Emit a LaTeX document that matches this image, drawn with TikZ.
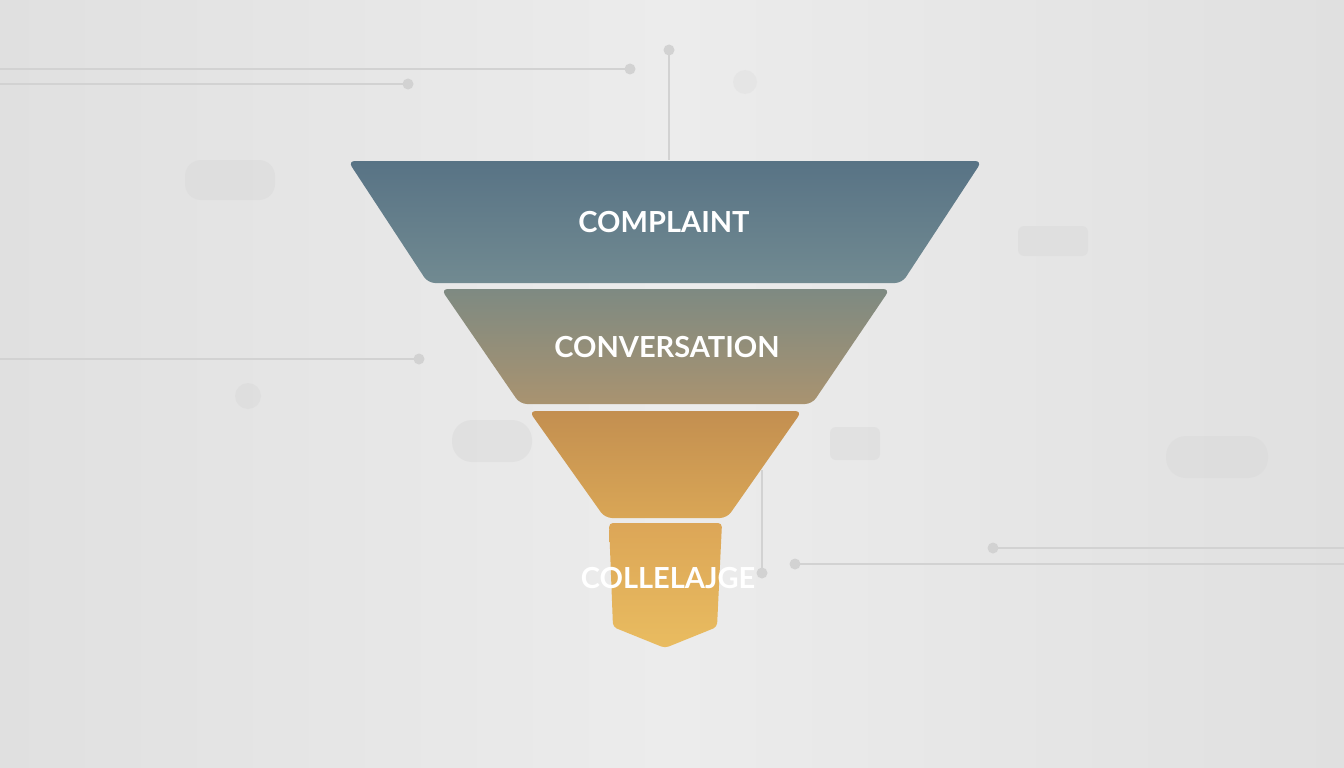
\documentclass[tikz,border=0pt]{standalone}
\usepackage{fontspec}
\setmainfont{Lato}
\definecolor{bgA}{HTML}{E0E0E0}
\definecolor{bgB}{HTML}{ECECEC}
\definecolor{deco}{HTML}{D2D2D2}
\definecolor{decofaint}{HTML}{DADADA}
\definecolor{aTop}{HTML}{587385}
\definecolor{aBot}{HTML}{718A91}
\definecolor{bTop}{HTML}{7E8A82}
\definecolor{bBot}{HTML}{A99370}
\definecolor{cTop}{HTML}{C38F50}
\definecolor{cBot}{HTML}{D9A656}
\definecolor{dTop}{HTML}{DCA657}
\definecolor{dBot}{HTML}{E9BC60}
\begin{document}
\begin{tikzpicture}[x=1pt,y=-1pt,
  decoline/.style={draw=deco,line width=1.2pt},
  decodot/.style={fill=deco,draw=none},
  faint/.style={fill=decofaint,draw=none,fill opacity=0.5,rounded corners=18pt},
  band/.style={rounded corners=7pt,draw=none},
  lbl/.style={text=white,font=\bfseries\fontsize{29}{32}\selectfont,inner sep=0pt}]
\useasboundingbox (0,0) rectangle (1344,768);
% background
\shade[left color=bgA,right color=bgA,middle color=bgB] (0,0) rectangle (1344,768);
% faint decorative shapes
\fill[faint,rounded corners=16pt] (185,160) rectangle (275,200);
\fill[faint,rounded corners=20pt] (452,420) rectangle (532,462);
\fill[faint,rounded corners=6pt] (830,427) rectangle (880,460);
\fill[faint,rounded corners=20pt] (1166,436) rectangle (1268,478);
\fill[faint,rounded corners=6pt] (1018,226) rectangle (1088,256);
\fill[faint] (248,396) circle (13);
\fill[faint,fill opacity=0.3] (745,82) circle (12);
% decorative connectors
\coordinate (l1a) at (0,69);   \coordinate (d1) at (630,69);
\coordinate (l2a) at (0,84);   \coordinate (d2) at (408,84);
\coordinate (d3) at (669,50);  \coordinate (l3b) at (669,160);
\coordinate (l4a) at (0,359);  \coordinate (d4) at (419,359);
\coordinate (l5a) at (762,470);\coordinate (d5) at (762,573);
\coordinate (d6) at (795,564); \coordinate (l6b) at (1344,564);
\coordinate (d7) at (993,548); \coordinate (l7b) at (1344,548);
\draw[decoline] (l1a) -- (d1);
\draw[decoline] (l2a) -- (d2);
\draw[decoline] (d3) -- (l3b);
\draw[decoline] (l4a) -- (d4);
\draw[decoline] (l5a) -- (d5);
\draw[decoline] (d6) -- (l6b);
\draw[decoline] (d7) -- (l7b);
\foreach \p in {d1,d2,d3,d4,d5,d6,d7} \fill[decodot] (\p) circle (5.5);
% funnel bands
\shade[band,top color=aTop,bottom color=aBot]
  (348,161) -- (982,161) -- (902,283) -- (428,283) -- cycle;
\shade[band,top color=bTop,bottom color=bBot]
  (441,289) -- (890,289) -- (812,404) -- (520,404) -- cycle;
\shade[band,top color=cTop,bottom color=cBot]
  (529,411) -- (802,411) -- (727,518) -- (605,518) -- cycle;
\shade[band,rounded corners=4pt,top color=dTop,bottom color=dBot]
  (609,523) -- (722,523) -- (717,627) -- (665,648) -- (613,627) -- cycle;
% labels
\node[lbl] (complaint) at (664,222) {COMPLAINT};
\node[lbl] (conversation) at (667,347) {CONVERSATION};
\node[lbl] (colleague) at (668,578) {COLLELAJGE};
\end{tikzpicture}
\end{document}
